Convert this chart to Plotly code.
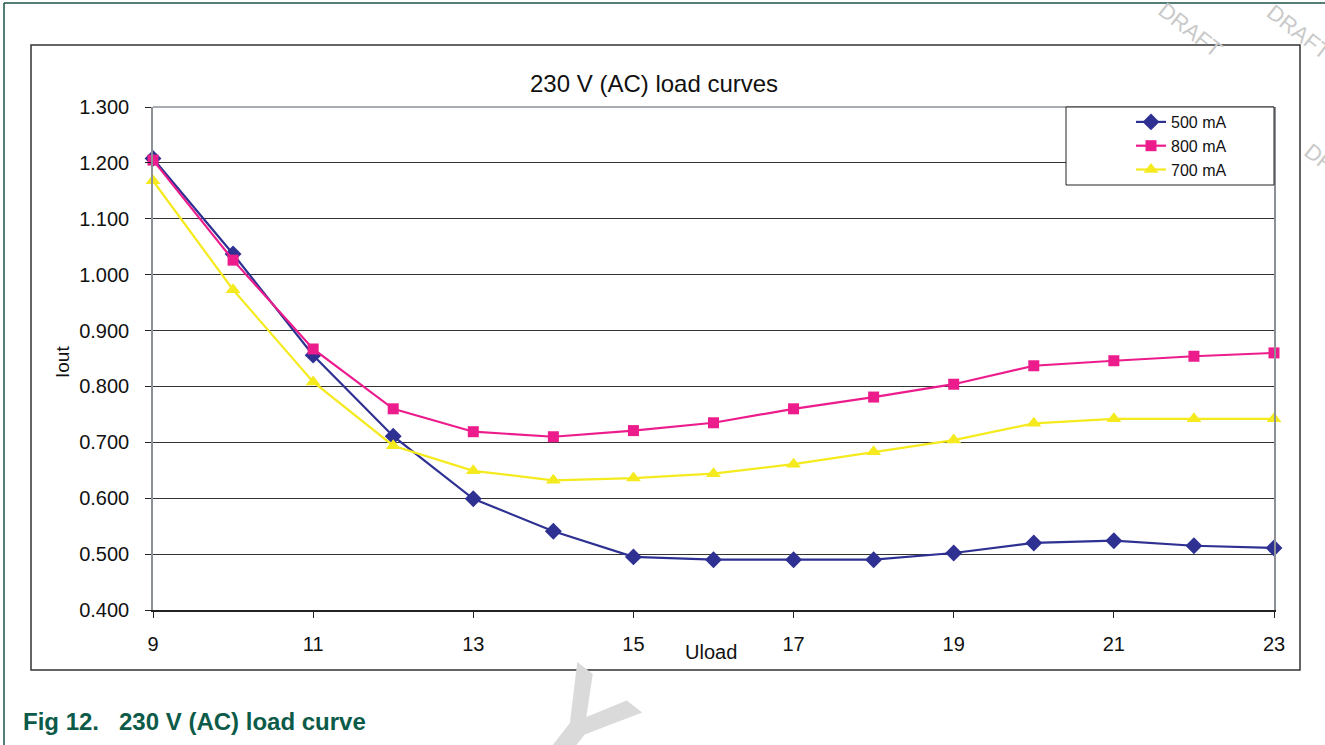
import plotly.graph_objects as go

# ---- data ----
uload = [9, 10, 11, 12, 13, 14, 15, 16, 17, 18, 19, 20, 21, 22, 23]
iout_500 = [1.208, 1.037, 0.856, 0.711, 0.599, 0.541, 0.495, 0.490, 0.490, 0.490, 0.502, 0.520, 0.524, 0.515, 0.511]
iout_800 = [1.205, 1.026, 0.867, 0.760, 0.719, 0.710, 0.721, 0.735, 0.760, 0.781, 0.804, 0.837, 0.846, 0.854, 0.860]
iout_700 = [1.168, 0.973, 0.808, 0.694, 0.649, 0.632, 0.636, 0.644, 0.661, 0.683, 0.704, 0.734, 0.742, 0.742, 0.742]
series_names = ["500 mA", "800 mA", "700 mA"]
x_ticks = [9, 11, 13, 15, 17, 19, 21, 23]
y_ticks = [0.4, 0.5, 0.6, 0.7, 0.8, 0.9, 1.0, 1.1, 1.2, 1.3]

W, H = 1325, 745
L, R, T, B = 153, 1274, 107, 610


def px(x):
    return (x - L) / (R - L)


def py(y):
    return (B - y) / (B - T)


FONT = "Liberation Sans, Arial, sans-serif"

fig = go.Figure()
styles = [
    dict(color="#2E3192", symbol="diamond", size=13),
    dict(color="#EC1C8C", symbol="square", size=11),
    dict(color="#F5EA1E", symbol="triangle-up", size=13),
]
for name, ys, st in zip(series_names, [iout_500, iout_800, iout_700], styles):
    fig.add_trace(go.Scatter(
        x=uload, y=ys, name=name, mode="lines+markers",
        line=dict(color=st["color"], width=2.2),
        marker=dict(color=st["color"], symbol=st["symbol"], size=st["size"], line=dict(width=0)),
        cliponaxis=False,
    ))

shapes = [
    # outer green page frame
    dict(type="line", xref="paper", yref="paper", x0=px(4), x1=px(1340), y0=py(3), y1=py(3),
         line=dict(color="#1D5448", width=1.5), layer="below"),
    dict(type="line", xref="paper", yref="paper", x0=px(4), x1=px(4), y0=py(3), y1=py(760),
         line=dict(color="#1D5448", width=1.5), layer="below"),
    # chart box
    dict(type="rect", xref="paper", yref="paper", x0=px(31), x1=px(1300), y0=py(45), y1=py(670),
         line=dict(color="#333333", width=1.5), fillcolor="white", layer="below"),
    # plot top border
    dict(type="line", xref="paper", yref="paper", x0=0, x1=1, y0=1, y1=1,
         line=dict(color="#8C9097", width=1.5), layer="above"),
    # legend box
    dict(type="rect", xref="paper", yref="paper", x0=px(1066), x1=px(1274), y0=py(107), y1=py(185),
         line=dict(color="#222222", width=1), fillcolor="white", layer="above"),
]


def note(text, x, y, size, color="#111111", angle=0, xanchor="center"):
    return dict(text=text, xref="paper", yref="paper", x=px(x), y=py(y), textangle=angle,
                xanchor=xanchor, yanchor="middle", showarrow=False,
                font=dict(family=FONT, size=size, color=color))


annotations = [
    note("230 V (AC) load curves", 654, 83, 24),
    note("Iout", 62, 362, 19, angle=-90),
    note("Uload", 711, 652, 20),
    note("<b>Fig 12.   230 V (AC) load curve</b>", 21, 721, 24, color="#0C5B48", xanchor="left"),
    # watermark fragments
    note("DRAFT", 1190, 29, 22, color="#C9C9C9", angle=38),
    note("DRAFT", 1298, 32, 22, color="#C9C9C9", angle=38),
    note("DRAFT", 1336, 170, 22, color="#C9C9C9", angle=38),
    note("<b>Y</b>", 582, 722, 130, color="#DADADA", angle=38),
]

fig.update_layout(
    width=W, height=H,
    margin=dict(l=L, r=W - R, t=T, b=H - B, pad=0),
    paper_bgcolor="white",
    plot_bgcolor="#C0C3CA",
    font=dict(family=FONT, size=20, color="#111111"),
    showlegend=True,
    legend=dict(x=px(1131), y=py(105), xanchor="left", yanchor="top",
                bgcolor="rgba(0,0,0,0)", borderwidth=0,
                font=dict(family=FONT, size=16, color="#111111"), tracegroupgap=0),
    shapes=shapes,
    annotations=annotations,
)
fig.update_xaxes(
    range=[9, 23], tickvals=x_ticks, ticktext=[str(v) for v in x_ticks],
    showgrid=False, zeroline=False, showline=True, linecolor="#222222", linewidth=1.5,
    ticks="outside", ticklen=6, tickcolor="#222222", ticklabelstandoff=9,
    tickfont=dict(family=FONT, size=20),
)
fig.update_yaxes(
    range=[0.4, 1.3], tickvals=y_ticks, tickformat=".3f",
    showgrid=True, gridcolor="#333333", gridwidth=1, zeroline=False,
    showline=True, linecolor="#8C9097", linewidth=1.5, mirror=True,
    ticks="outside", ticklen=6, tickcolor="#222222", ticklabelstandoff=12,
    tickfont=dict(family=FONT, size=20),
)

fig.write_html("out.html", config={"displayModeBar": False},
               post_script="document.body.style.margin='0';")
